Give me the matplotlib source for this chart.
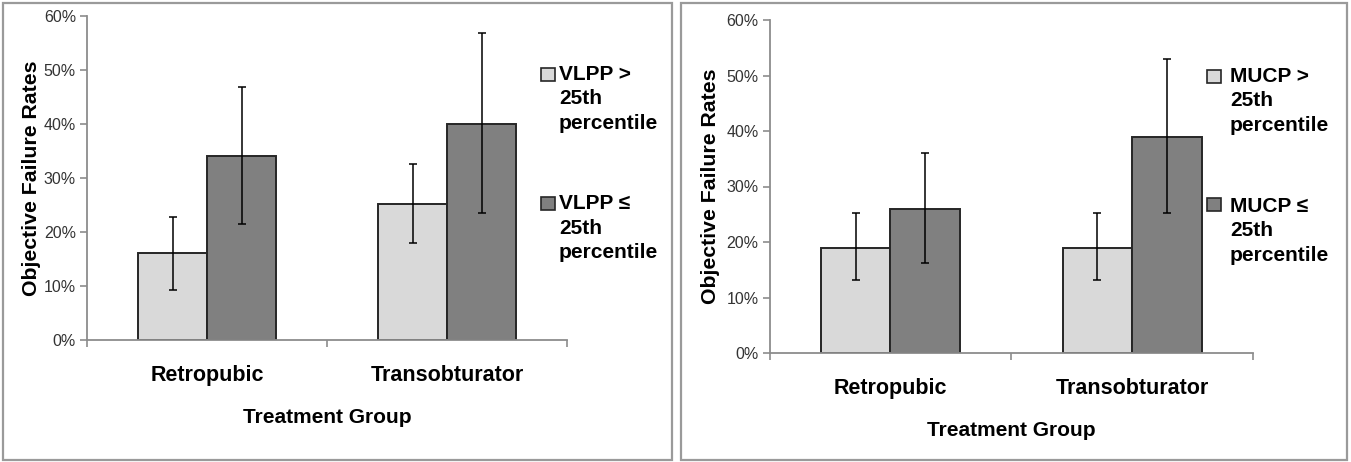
import matplotlib
matplotlib.use('Agg')
import matplotlib.pyplot as plt
from matplotlib.patches import Rectangle
import numpy as np

plt.rcParams['font.family'] = ['Liberation Sans', 'DejaVu Sans']

categories = ['Retropubic', 'Transobturator']

# Panel A: VLPP
vlpp_high = [16.1, 25.1]
vlpp_high_lo = [9.3, 18.0]
vlpp_high_hi = [22.8, 32.6]
vlpp_low = [34.1, 40.0]
vlpp_low_lo = [21.5, 23.6]
vlpp_low_hi = [46.9, 56.9]
vlpp_labels = ['VLPP >\n25th\npercentile', 'VLPP \u2264\n25th\npercentile']

# Panel B: MUCP
mucp_high = [19.0, 19.0]
mucp_high_lo = [13.2, 13.2]
mucp_high_hi = [25.2, 25.2]
mucp_low = [26.0, 39.0]
mucp_low_lo = [16.2, 25.2]
mucp_low_hi = [36.0, 52.9]
mucp_labels = ['MUCP >\n25th\npercentile', 'MUCP \u2264\n25th\npercentile']

yticks = [0, 10, 20, 30, 40, 50, 60]
ytick_labels = ['0%', '10%', '20%', '30%', '40%', '50%', '60%']
ylabel = 'Objective Failure Rates'
xlabel = 'Treatment Group'

LIGHT = '#d9d9d9'
DARK = '#808080'
EDGE = '#262626'
AXC = '#8c8c8c'
TICKC = '#333333'

W, H = 1351, 462
fig = plt.figure(figsize=(W / 100, H / 100), dpi=100)


def fx(px):
    return px / W


def fy(py):
    return 1 - py / H


def panel(box, light, llo, lhi, dark, dlo, dhi, labels, leg):
    x0, x1, yb, yt = box
    ax = fig.add_axes([fx(x0), fy(yb), fx(x1) - fx(x0), fy(yt) - fy(yb)])
    x = np.arange(len(categories))
    w = 0.2875
    light = np.array(light); dark = np.array(dark)
    ax.bar(x - w / 2, light, w, color=LIGHT, edgecolor=EDGE, linewidth=1.4, zorder=2)
    ax.bar(x + w / 2, dark, w, color=DARK, edgecolor=EDGE, linewidth=1.4, zorder=2)
    ax.errorbar(x - w / 2, light, yerr=[light - np.array(llo), np.array(lhi) - light],
                fmt='none', ecolor='black', elinewidth=1.1, capsize=3, capthick=1.1, zorder=3)
    ax.errorbar(x + w / 2, dark, yerr=[dark - np.array(dlo), np.array(dhi) - dark],
                fmt='none', ecolor='black', elinewidth=1.1, capsize=3, capthick=1.1, zorder=3)
    ax.set_xlim(-0.5, len(categories) - 0.5)
    ax.set_ylim(0, 60)
    ax.set_yticks(yticks)
    ax.set_yticklabels(ytick_labels, fontsize=11.5, color=TICKC)
    ax.set_xticks(x)
    ax.set_xticklabels(categories, fontsize=15.5, fontweight='bold')
    ax.set_xticks(np.arange(len(categories) + 1) - 0.5, minor=True)
    ax.tick_params(axis='x', which='major', length=0, pad=18)
    ax.tick_params(axis='x', which='minor', length=5, width=1.2, color=AXC, direction='out')
    ax.tick_params(axis='y', length=5, width=1.2, color=AXC, direction='out', pad=3)
    for s in ['top', 'right']:
        ax.spines[s].set_visible(False)
    for s in ['left', 'bottom']:
        ax.spines[s].set_color(AXC)
        ax.spines[s].set_linewidth(1.3)
    ax.set_xlabel(xlabel, fontsize=15, fontweight='bold', labelpad=16)
    ax.set_ylabel(ylabel, fontsize=15.3, fontweight='bold', va='center')
    ax.yaxis.set_label_coords(leg['ylab'], 0.5)
    # legend
    for lab, col, (py, base) in zip(labels, [LIGHT, DARK], leg['entries']):
        fig.patches.append(Rectangle((fx(leg['px']), fy(py + 13)), fx(14), 13 / H,
                                     transform=fig.transFigure, facecolor=col,
                                     edgecolor=EDGE, linewidth=1.2))
        for i, line in enumerate(lab.split('\n')):
            fig.text(fx(leg['tx']), fy(base + i * leg['sp']), line, fontsize=15,
                     fontweight='bold', ha='left', va='baseline')
    return ax


panel((87, 567, 340, 16), vlpp_high, vlpp_high_lo, vlpp_high_hi,
      vlpp_low, vlpp_low_lo, vlpp_low_hi, vlpp_labels,
      dict(ylab=-0.115, px=541, tx=559, sp=24.5, entries=[(68, 80), (197, 209)]))
panel((769.5, 1253, 353, 20), mucp_high, mucp_high_lo, mucp_high_hi,
      mucp_low, mucp_low_lo, mucp_low_hi, mucp_labels,
      dict(ylab=-0.121, px=1207, tx=1230, sp=24.5, entries=[(70, 82), (198, 212)]))

# panel frames
for (a, b) in [(3, 672), (681, 1347)]:
    fig.patches.append(Rectangle((fx(a), fy(460)), fx(b - a), (460 - 3) / H,
                                 transform=fig.transFigure, fill=False,
                                 edgecolor='#9a9a9a', linewidth=1.6))

fig.savefig('out.png', dpi=100)
